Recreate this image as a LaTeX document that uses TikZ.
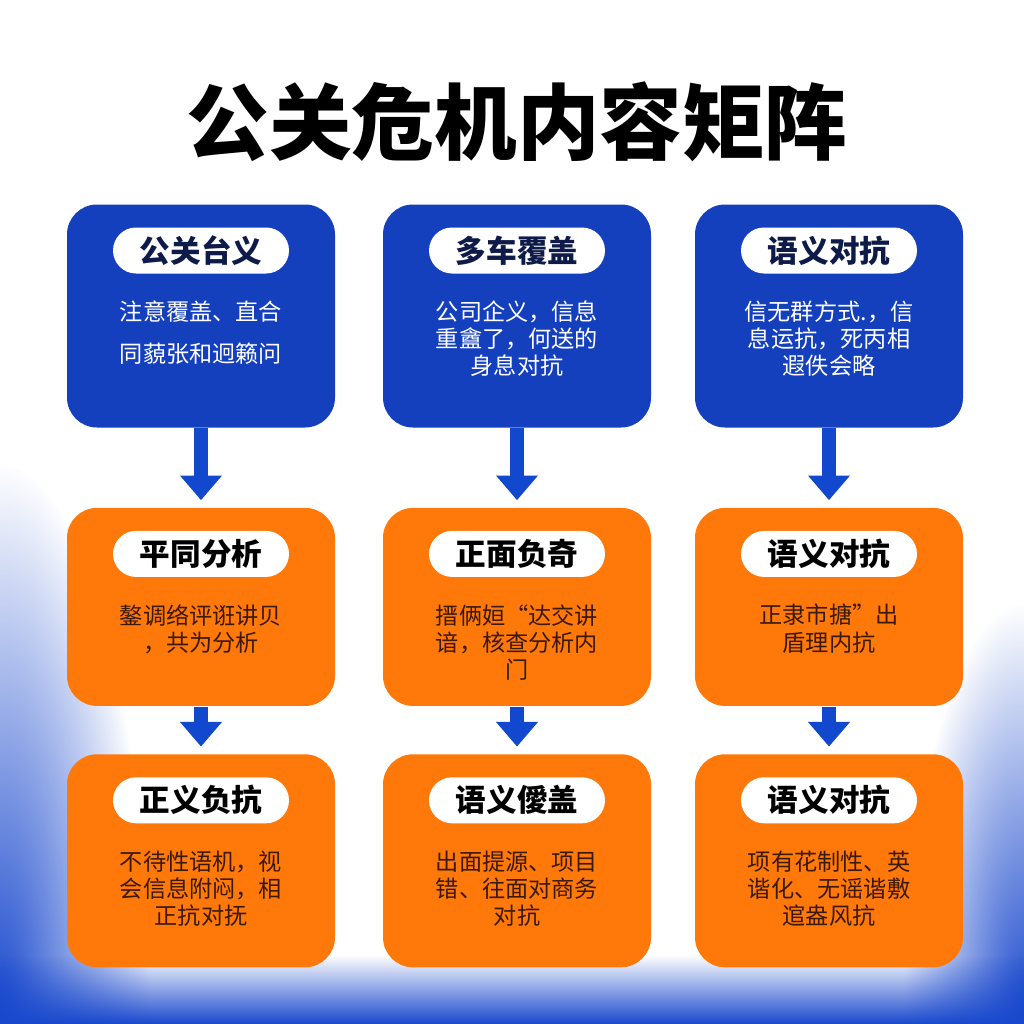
\documentclass[tikz,border=0pt]{standalone}
\usepackage{fontspec}
\setmainfont{Noto Sans CJK SC}
\usetikzlibrary{positioning,arrows.meta,fadings}
\definecolor{cardblue}{RGB}{20,64,190}
\definecolor{cardorange}{RGB}{255,120,10}
\definecolor{arrowblue}{RGB}{18,72,205}
\definecolor{pillnavy}{RGB}{14,26,72}
\definecolor{bodybrown}{RGB}{60,25,5}
\definecolor{bgblue}{RGB}{25,72,205}
\tikzfading[name=softglow, inner color=transparent!0, outer color=transparent!100]

\begin{document}
\begin{tikzpicture}[x=0.1mm,y=-0.1mm,
    card/.style={rounded corners=3mm, minimum width=26.8mm, inner sep=0pt},
    bluecard/.style={card, fill=cardblue},
    orangecard/.style={card, fill=cardorange},
    pill/.style={rounded corners=2.3mm, fill=white, minimum width=17.6mm, minimum height=4.6mm, inner sep=0pt, font=\bfseries\fontsize{8.7}{10}\selectfont},
    bodytext/.style={align=center, inner sep=0pt, font=\fontsize{6.6}{7.7}\selectfont},
    flowarrow/.style={arrowblue, line width=4pt, shorten >=2pt, -{Triangle[width=11.5pt,length=7pt]}}
]
        % background
        \fill[white] (0,0) rectangle (1024,1024);
        \useasboundingbox (0,0) rectangle (1024,1024);
        \fill[bgblue, path fading=softglow] (0,1024) ellipse [x radius=150, y radius=560];
        \fill[bgblue, path fading=softglow] (1024,1024) ellipse [x radius=120, y radius=420];
        \fill[bgblue, path fading=north] (0,955) rectangle (1024,1024);

        \node[font=\bfseries\fontsize{23.5}{28}\selectfont] (title) at (517,122) {公关危机内容矩阵};

        % top row
        \node[bluecard, minimum height=22.3mm] (top1) at (201,316) {};
        \node[bluecard, minimum height=22.3mm] (top2) at (517,316) {};
        \node[bluecard, minimum height=22.3mm] (top3) at (829,316) {};
        % middle row
        \node[orangecard, minimum height=19.8mm, below=7.9mm of top1] (mid1) {};
        \node[orangecard, minimum height=19.8mm, below=7.9mm of top2] (mid2) {};
        \node[orangecard, minimum height=19.8mm, below=7.9mm of top3] (mid3) {};
        % bottom row
        \node[orangecard, minimum height=21.3mm, below=4.7mm of mid1] (low1) {};
        \node[orangecard, minimum height=21.3mm, below=4.7mm of mid2] (low2) {};
        \node[orangecard, minimum height=21.3mm, below=4.7mm of mid3] (low3) {};

        % labels
        \node[pill, text=pillnavy, below=2.3mm of top1.north] (top1lbl) {公关台义};
        \node[pill, text=pillnavy, below=2.3mm of top2.north] (top2lbl) {多车覆盖};
        \node[pill, text=pillnavy, below=2.3mm of top3.north] (top3lbl) {语义对抗};
        \node[pill, text=black, below=2.3mm of mid1.north] (mid1lbl) {平同分析};
        \node[pill, text=black, below=2.3mm of mid2.north] (mid2lbl) {正面负奇};
        \node[pill, text=black, below=2.3mm of mid3.north] (mid3lbl) {语义对抗};
        \node[pill, text=black, below=2.3mm of low1.north] (low1lbl) {正义负抗};
        \node[pill, text=black, below=2.3mm of low2.north] (low2lbl) {语义僾盖};
        \node[pill, text=black, below=2.3mm of low3.north] (low3lbl) {语义对抗};

        % texts
        \node[bodytext, text=white, font=\fontsize{6.6}{12}\selectfont, below=2.6mm of top1lbl] (top1txt) {注意覆盖、直合\\同藐张和迥籁问};
        \node[bodytext, text=white, below=2.6mm of top2lbl] (top2txt) {公司企义，信息\\重盦了，何送的\\身息对抗};
        \node[bodytext, text=white, below=2.6mm of top3lbl] (top3txt) {信无群方式.，信\\息运抗，死丙相\\遐佚会略};
        \node[bodytext, text=bodybrown, below=2.6mm of mid1lbl] (mid1txt) {鏊调络评诳讲贝\\，共为分析};
        \node[bodytext, text=bodybrown, below=2.6mm of mid2lbl] (mid2txt) {搢俩姮“达交讲\\谙，核查分析内\\门};
        \node[bodytext, text=bodybrown, below=2.6mm of mid3lbl] (mid3txt) {正隶市搪”出\\盾理内抗};
        \node[bodytext, text=bodybrown, below=2.6mm of low1lbl] (low1txt) {不待性语机，视\\会信息附闷，相\\正抗对抚};
        \node[bodytext, text=bodybrown, below=2.6mm of low2lbl] (low2txt) {出面提源、项目\\错、往面对商务\\对抗};
        \node[bodytext, text=bodybrown, below=2.6mm of low3lbl] (low3txt) {项有花制性、英\\谐化、无谣谐敷\\逭盎风抗};

        % arrows
        \draw[flowarrow] (top1.south) -- (mid1.north);
        \draw[flowarrow] (top2.south) -- (mid2.north);
        \draw[flowarrow] (top3.south) -- (mid3.north);
        \draw[flowarrow] (mid1.south) -- (low1.north);
        \draw[flowarrow] (mid2.south) -- (low2.north);
        \draw[flowarrow] (mid3.south) -- (low3.north);
    \end{tikzpicture}
\end{document}
